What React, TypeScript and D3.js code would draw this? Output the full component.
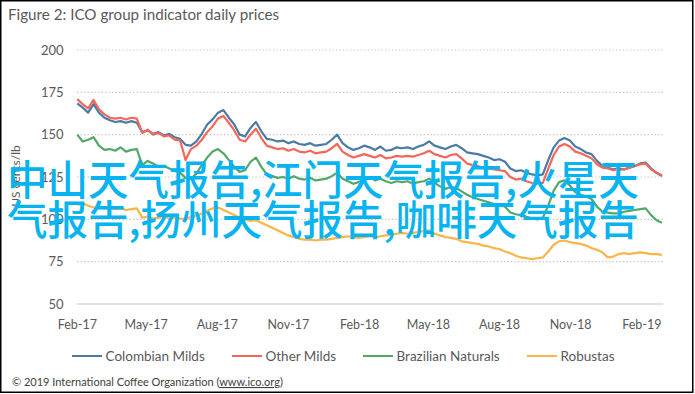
import React from "react";
import * as d3 from "d3";

// ---- Data (weekly samples starting 1 Feb 2017), US cents/lb ----
const seriesNames = ["Colombian Milds", "Other Milds", "Brazilian Naturals", "Robustas"];
const seriesColors = ["#4a7ba3", "#f5665a", "#52a866", "#fbb44a"];

const colombianMilds = [
  168.5, 166, 163, 168, 163, 160, 158.5, 157.5, 158, 157, 158, 157, 151.5, 152.5, 150.5, 151.5, 149.5, 150.5, 148.5, 147.5,
  144, 143.5, 146, 150.5, 156, 159, 163, 164.5, 160, 156, 150, 149, 154, 157.5, 152, 147.5, 147, 146, 146.5, 145,
  146, 144.5, 144, 145, 143.5, 144, 144.5, 147, 150, 145, 142.5, 141, 142, 143.5, 142.5, 141, 143, 140.5, 141, 142.5,
  142, 142.5, 141.5, 143, 144, 146, 143.5, 142.5, 141.5, 143, 144, 142, 139.5, 139, 138.5, 137.5, 136.5, 135, 135.5, 134,
  130, 128.5, 129, 127.5, 126.5, 126, 126.5, 135, 142.5, 146.5, 148, 146.5, 143, 141.5, 139.5, 138.5, 134.5, 131.5, 130.5, 129.5,
  130, 129.5, 130.5, 131.5, 133, 133.5, 130, 127.5, 125.5,
];
const otherMilds = [
  171, 168, 165.5, 170.5, 165, 162, 160, 159.5, 160, 159, 160, 159.5, 151, 153, 150, 151, 149, 149.5, 147, 146.5,
  135, 141.5, 143.5, 147, 151.5, 155, 159.5, 161, 157, 152.5, 147, 146, 150, 153.5, 148, 143.5, 142.5, 141.5, 142, 140.5,
  141.5, 140, 139.5, 140.5, 139, 139.5, 140, 142, 144.5, 140, 138, 136.5, 137.5, 138.5, 137.5, 136.5, 138, 136, 136.5, 137.5,
  137, 137.5, 137, 138, 139, 140.5, 138.5, 137.5, 136.5, 138, 138.5, 136, 133, 132, 131.5, 130.5, 130, 129.5, 129, 128.5,
  125, 123.5, 124, 122.5, 121.5, 121, 121.5, 130, 138, 143, 144.5, 143, 140, 139, 137.5, 136, 132.5, 130.5, 130, 129,
  129.5, 129.5, 130.5, 131.5, 132.5, 133, 129.5, 127.5, 126,
];
const brazilianNaturals = [
  150, 146, 147, 148.5, 143.5, 141, 141.5, 140.5, 142.5, 140, 141, 141.5, 132, 134.5, 133, 131, 131.5, 130, 128.5, 127.5,
  124.5, 124, 127, 132, 136.5, 140, 141.5, 139, 135, 131, 128, 129, 134, 136.5, 131, 126.5, 125.5, 124.5, 125, 124,
  125.5, 124, 123.5, 124.5, 123, 123.5, 124, 125.5, 127.5, 124, 122.5, 121, 122, 124, 125, 123, 124, 122.5, 121.5, 122.5,
  122, 122.5, 121, 122, 122.5, 124, 121.5, 119.5, 118, 119, 118.5, 116.5, 114.5, 113, 112, 111, 110, 109, 108.5, 107.5,
  104, 103, 102.5, 101.5, 100.5, 100, 101, 108, 117, 122, 123, 120, 116, 114.5, 113.5, 112, 107.5, 104.5, 104, 103.5,
  103.5, 104.5, 105, 105.5, 106, 106.5, 102.5, 99.5, 98,
];
const robustas = [
  108.5, 109.5, 108, 107, 107.5, 106.5, 107, 106, 106.5, 105.5, 106, 106.5, 101, 101.5, 100.5, 101, 101.5, 100.5, 101, 100.5,
  100, 101.5, 102, 103.5, 105, 106.5, 107, 105.5, 104, 102.5, 101, 100, 99, 99.5, 98, 96.5, 95, 93.5, 92, 90.5,
  89.5, 88.5, 88, 88, 87.5, 88, 88, 88.5, 89, 89.5, 90, 89.5, 89, 89.5, 90, 89.5, 90, 90.5, 91, 91.5,
  92, 91.5, 92, 92.5, 93, 93.5, 91.5, 90.5, 89.5, 89, 88.5, 87, 86.5, 86, 85.5, 84.5, 84, 83, 82.5, 81,
  80, 78.5, 77.5, 77, 76.5, 77, 77.5, 81, 85, 87, 87.5, 86.5, 86, 85.5, 84.5, 83, 82, 80.5, 77.5, 78,
  79.5, 80, 79.5, 80, 80.5, 80, 79.5, 79.5, 79,
];

const yTicks = [50, 75, 100, 125, 150, 175, 200];
const xTickLabels = ["Feb-17", "May-17", "Aug-17", "Nov-17", "Feb-18", "May-18", "Aug-18", "Nov-18", "Feb-19"];
const watermarkLines = ["中山天气报告,江门天气报告,火星天", "气报告,扬州天气报告,咖啡天气报告"];
const titleText = "Figure 2: ICO group indicator daily prices";
const yAxisTitle = "US cents/lb";
const footerText = "© 2019 International Coffee Organization (";
const footerLink = "www.ico.org";

const W = 695;
const H = 394;
const FONT = "Lato, 'Open Sans', sans-serif";

export default function App() {
  const start = new Date(2017, 1, 1);
  const allSeries = [colombianMilds, otherMilds, brazilianNaturals, robustas];
  const dates = colombianMilds.map((_, i) => d3.timeDay.offset(start, i * 7));

  const x = d3.scaleTime().domain([new Date(2017, 1, 1), new Date(2019, 1, 28)]).range([77.3, 662.7]);
  const y = d3.scaleLinear().domain([50, 200]).range([304, 50]);
  const parse = d3.timeParse("%b-%y");

  const line = d3
    .line<number>()
    .x((_, i) => x(dates[i]))
    .y((v) => y(v));

  const legendX = [72, 232, 363, 527];

  return (
    <svg width={W} height={H} style={{ position: "absolute", left: 0, top: 0, background: "#fff" }}>
      <rect x={0} y={0} width={W} height={H} fill="#fff" />
      <text x={8} y={20} fontFamily={FONT} fontSize={15.2} fill="#595959">
        {titleText}
      </text>

      {/* gridlines */}
      {yTicks.map((t) =>
        t === 50 ? (
          <line key={t} x1={77} x2={663} y1={y(t)} y2={y(t)} stroke="#d9d9d9" strokeWidth={1.3} />
        ) : (
          <line key={t} x1={77} x2={663} y1={y(t)} y2={y(t)} stroke="#c4c4c4" strokeWidth={1.2} strokeDasharray="1.3,2.2" />
        )
      )}
      {yTicks.map((t) => (
        <text key={"yl" + t} x={63.5} y={y(t) + 4.5} textAnchor="end" fontFamily={FONT} fontSize={13} fill="#595959">
          {t}
        </text>
      ))}
      {xTickLabels.map((lab) => (
        <text key={lab} x={x(parse(lab) as Date)} y={329} textAnchor="middle" fontFamily={FONT} fontSize={12.5} fill="#595959">
          {lab}
        </text>
      ))}
      <text
        transform={`translate(20,176) rotate(-90)`}
        textAnchor="middle"
        fontFamily={FONT}
        fontSize={12}
        fill="#595959"
      >
        {yAxisTitle}
      </text>

      {/* series */}
      {allSeries.map((s, k) => (
        <path
          key={seriesNames[k]}
          d={line(s) || ""}
          fill="none"
          stroke={seriesColors[k]}
          strokeWidth={2.2}
          strokeLinejoin="round"
        />
      ))}

      {/* legend */}
      {seriesNames.map((n, k) => (
        <g key={"lg" + n}>
          <line x1={legendX[k]} x2={legendX[k] + 30} y1={356} y2={356} stroke={seriesColors[k]} strokeWidth={2} />
          <text x={legendX[k] + 33.5} y={360.5} fontFamily={FONT} fontSize={13.5} fill="#595959">
            {n}
          </text>
        </g>
      ))}

      <text x={12} y={386} fontFamily={FONT} fontSize={11} fill="#404040">
        {footerText}
        <tspan textDecoration="underline">{footerLink}</tspan>)
      </text>

      {/* watermark */}
      {watermarkLines.map((l, i) => (
        <text
          key={"wm" + i}
          x={7}
          y={195 + i * 40}
          fontFamily="'Noto Sans CJK SC', sans-serif"
          fontSize={40.5}
          fontWeight={500}
          fill="#08b4f0"
        >
          {l}
        </text>
      ))}

      <rect x={0.75} y={0.75} width={692} height={391.5} fill="none" stroke="#000" strokeWidth={1.5} />
    </svg>
  );
}
